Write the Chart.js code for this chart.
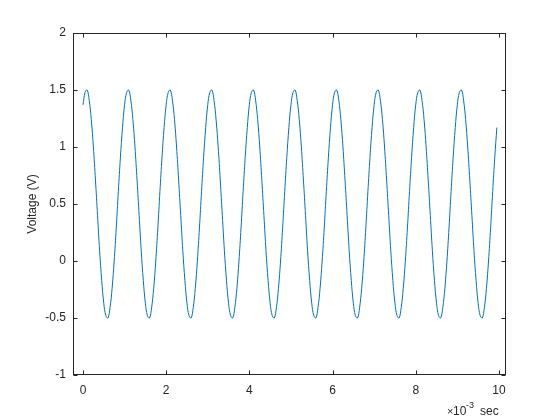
<!DOCTYPE html>
<html>
<head>
<meta charset="utf-8">
<script src="https://cdn.jsdelivr.net/npm/chart.js@4"></script>
<style>
  html, body { margin: 0; padding: 0; background: #fff; }
  #wrap { width: 560px; height: 420px; }
</style>
</head>
<body>
<div id="wrap"><canvas id="plot"></canvas></div>
<script>
// time in ms (axis shows x 10^-3 sec)
const timeMs = [
  0.00, 0.05, 0.10, 0.15, 0.20, 0.25, 0.30, 0.35, 0.40, 0.45, 0.50, 0.55, 0.60, 0.65, 0.70, 0.75, 0.80, 0.85, 0.90, 0.95,
  1.00, 1.05, 1.10, 1.15, 1.20, 1.25, 1.30, 1.35, 1.40, 1.45, 1.50, 1.55, 1.60, 1.65, 1.70, 1.75, 1.80, 1.85, 1.90, 1.95,
  2.00, 2.05, 2.10, 2.15, 2.20, 2.25, 2.30, 2.35, 2.40, 2.45, 2.50, 2.55, 2.60, 2.65, 2.70, 2.75, 2.80, 2.85, 2.90, 2.95,
  3.00, 3.05, 3.10, 3.15, 3.20, 3.25, 3.30, 3.35, 3.40, 3.45, 3.50, 3.55, 3.60, 3.65, 3.70, 3.75, 3.80, 3.85, 3.90, 3.95,
  4.00, 4.05, 4.10, 4.15, 4.20, 4.25, 4.30, 4.35, 4.40, 4.45, 4.50, 4.55, 4.60, 4.65, 4.70, 4.75, 4.80, 4.85, 4.90, 4.95,
  5.00, 5.05, 5.10, 5.15, 5.20, 5.25, 5.30, 5.35, 5.40, 5.45, 5.50, 5.55, 5.60, 5.65, 5.70, 5.75, 5.80, 5.85, 5.90, 5.95,
  6.00, 6.05, 6.10, 6.15, 6.20, 6.25, 6.30, 6.35, 6.40, 6.45, 6.50, 6.55, 6.60, 6.65, 6.70, 6.75, 6.80, 6.85, 6.90, 6.95,
  7.00, 7.05, 7.10, 7.15, 7.20, 7.25, 7.30, 7.35, 7.40, 7.45, 7.50, 7.55, 7.60, 7.65, 7.70, 7.75, 7.80, 7.85, 7.90, 7.95,
  8.00, 8.05, 8.10, 8.15, 8.20, 8.25, 8.30, 8.35, 8.40, 8.45, 8.50, 8.55, 8.60, 8.65, 8.70, 8.75, 8.80, 8.85, 8.90, 8.95,
  9.00, 9.05, 9.10, 9.15, 9.20, 9.25, 9.30, 9.35, 9.40, 9.45, 9.50, 9.55, 9.60, 9.65, 9.70, 9.75, 9.80, 9.85, 9.90, 9.95
];

// voltage, one row per period
const voltage = [
  1.37, 1.48, 1.50, 1.41, 1.24, 1.00, 0.71, 0.40, 0.09, -0.17, -0.37, -0.48, -0.50, -0.41, -0.24, 0.00, 0.29, 0.61, 0.91, 1.17,
  1.37, 1.48, 1.50, 1.41, 1.24, 1.00, 0.71, 0.40, 0.09, -0.17, -0.37, -0.48, -0.50, -0.41, -0.24, 0.00, 0.29, 0.61, 0.91, 1.17,
  1.37, 1.48, 1.50, 1.41, 1.24, 1.00, 0.71, 0.40, 0.09, -0.17, -0.37, -0.48, -0.50, -0.41, -0.24, 0.00, 0.29, 0.61, 0.91, 1.17,
  1.37, 1.48, 1.50, 1.41, 1.24, 1.00, 0.71, 0.40, 0.09, -0.17, -0.37, -0.48, -0.50, -0.41, -0.24, 0.00, 0.29, 0.61, 0.91, 1.17,
  1.37, 1.48, 1.50, 1.41, 1.24, 1.00, 0.71, 0.40, 0.09, -0.17, -0.37, -0.48, -0.50, -0.41, -0.24, 0.00, 0.29, 0.61, 0.91, 1.17,
  1.37, 1.48, 1.50, 1.41, 1.24, 1.00, 0.71, 0.40, 0.09, -0.17, -0.37, -0.48, -0.50, -0.41, -0.24, 0.00, 0.29, 0.61, 0.91, 1.17,
  1.37, 1.48, 1.50, 1.41, 1.24, 1.00, 0.71, 0.40, 0.09, -0.17, -0.37, -0.48, -0.50, -0.41, -0.24, 0.00, 0.29, 0.61, 0.91, 1.17,
  1.37, 1.48, 1.50, 1.41, 1.24, 1.00, 0.71, 0.40, 0.09, -0.17, -0.37, -0.48, -0.50, -0.41, -0.24, 0.00, 0.29, 0.61, 0.91, 1.17,
  1.37, 1.48, 1.50, 1.41, 1.24, 1.00, 0.71, 0.40, 0.09, -0.17, -0.37, -0.48, -0.50, -0.41, -0.24, 0.00, 0.29, 0.61, 0.91, 1.17,
  1.37, 1.48, 1.50, 1.41, 1.24, 1.00, 0.71, 0.40, 0.09, -0.17, -0.37, -0.48, -0.50, -0.41, -0.24, 0.00, 0.29, 0.61, 0.91, 1.17
];

const xTicks = [0, 2, 4, 6, 8, 10];
const yTicks = [-1, -0.5, 0, 0.5, 1, 1.5, 2];

const axisColor = '#262626';
const fontFamily = '"Liberation Sans", Arial, sans-serif';

// box + inward ticks on all four sides, and the x10^-3 sec note
const matlabAxes = {
  id: 'matlabAxes',
  afterDraw(chart) {
    const { ctx, chartArea: a, scales } = chart;
    const L = Math.round(a.left) + 0.5;
    const R = Math.round(a.right) - 0.5;
    const T = Math.round(a.top) + 0.5;
    const B = Math.round(a.bottom) - 0.5;
    const len = 4;
    ctx.save();
    ctx.strokeStyle = axisColor;
    ctx.lineWidth = 1;
    ctx.strokeRect(L, T, R - L, B - T);
    ctx.beginPath();
    xTicks.forEach(v => {
      const px = Math.round(scales.x.getPixelForValue(v)) + 0.5;
      ctx.moveTo(px, B); ctx.lineTo(px, B - len);
      ctx.moveTo(px, T); ctx.lineTo(px, T + len);
    });
    yTicks.forEach(v => {
      const py = Math.round(scales.y.getPixelForValue(v)) + 0.5;
      ctx.moveTo(L, py); ctx.lineTo(L + len, py);
      ctx.moveTo(R, py); ctx.lineTo(R - len, py);
    });
    ctx.stroke();

    // exponent label under the right end of the x axis
    ctx.fillStyle = axisColor;
    ctx.textBaseline = 'alphabetic';
    ctx.textAlign = 'left';
    const base = 415;
    const x0 = Math.round(a.right) - 59;
    ctx.font = '11px ' + fontFamily;
    ctx.fillText('\u00d7', x0, base);
    ctx.font = '12px ' + fontFamily;
    ctx.fillText('10', x0 + 6, base);
    ctx.font = '9px ' + fontFamily;
    ctx.fillText('-3', x0 + 19, base - 7);
    ctx.font = '12px ' + fontFamily;
    ctx.fillText('sec', x0 + 33, base);
    ctx.restore();
  }
};

const chart = new Chart(document.getElementById('plot'), {
  type: 'line',
  data: {
    datasets: [{
      label: 'Voltage',
      data: timeMs.map((t, i) => ({ x: t, y: voltage[i] })),
      borderColor: '#0072BD',
      borderWidth: 1,
      pointRadius: 0,
      fill: false,
      tension: 0.4
    }]
  },
  options: {
    responsive: true,
    maintainAspectRatio: false,
    animation: false,
    layout: { padding: { left: 0, right: 54, top: 33, bottom: 0 } },
    plugins: {
      legend: { display: false },
      tooltip: { enabled: false }
    },
    scales: {
      x: {
        type: 'linear',
        min: -0.24,
        max: 10.17,
        afterBuildTicks: s => { s.ticks = xTicks.map(v => ({ value: v })); },
        afterFit: s => { s.height = 45; },
        grid: { display: false, drawTicks: false },
        border: { display: false },
        ticks: {
          color: axisColor,
          padding: 8,
          maxRotation: 0,
          callback: v => String(v),
          font: { family: fontFamily, size: 12 }
        }
      },
      y: {
        type: 'linear',
        min: -1,
        max: 2,
        afterBuildTicks: s => { s.ticks = yTicks.map(v => ({ value: v })); },
        afterFit: s => { s.width = 73; },
        grid: { display: false, drawTicks: false },
        border: { display: false },
        title: {
          display: true,
          text: 'Voltage (V)',
          color: axisColor,
          padding: { top: 25, bottom: 0 },
          font: { family: fontFamily, size: 12 }
        },
        ticks: {
          color: axisColor,
          padding: 7,
          callback: v => String(v),
          font: { family: fontFamily, size: 12 }
        }
      }
    }
  },
  plugins: [matlabAxes]
});
</script>
</body>
</html>
